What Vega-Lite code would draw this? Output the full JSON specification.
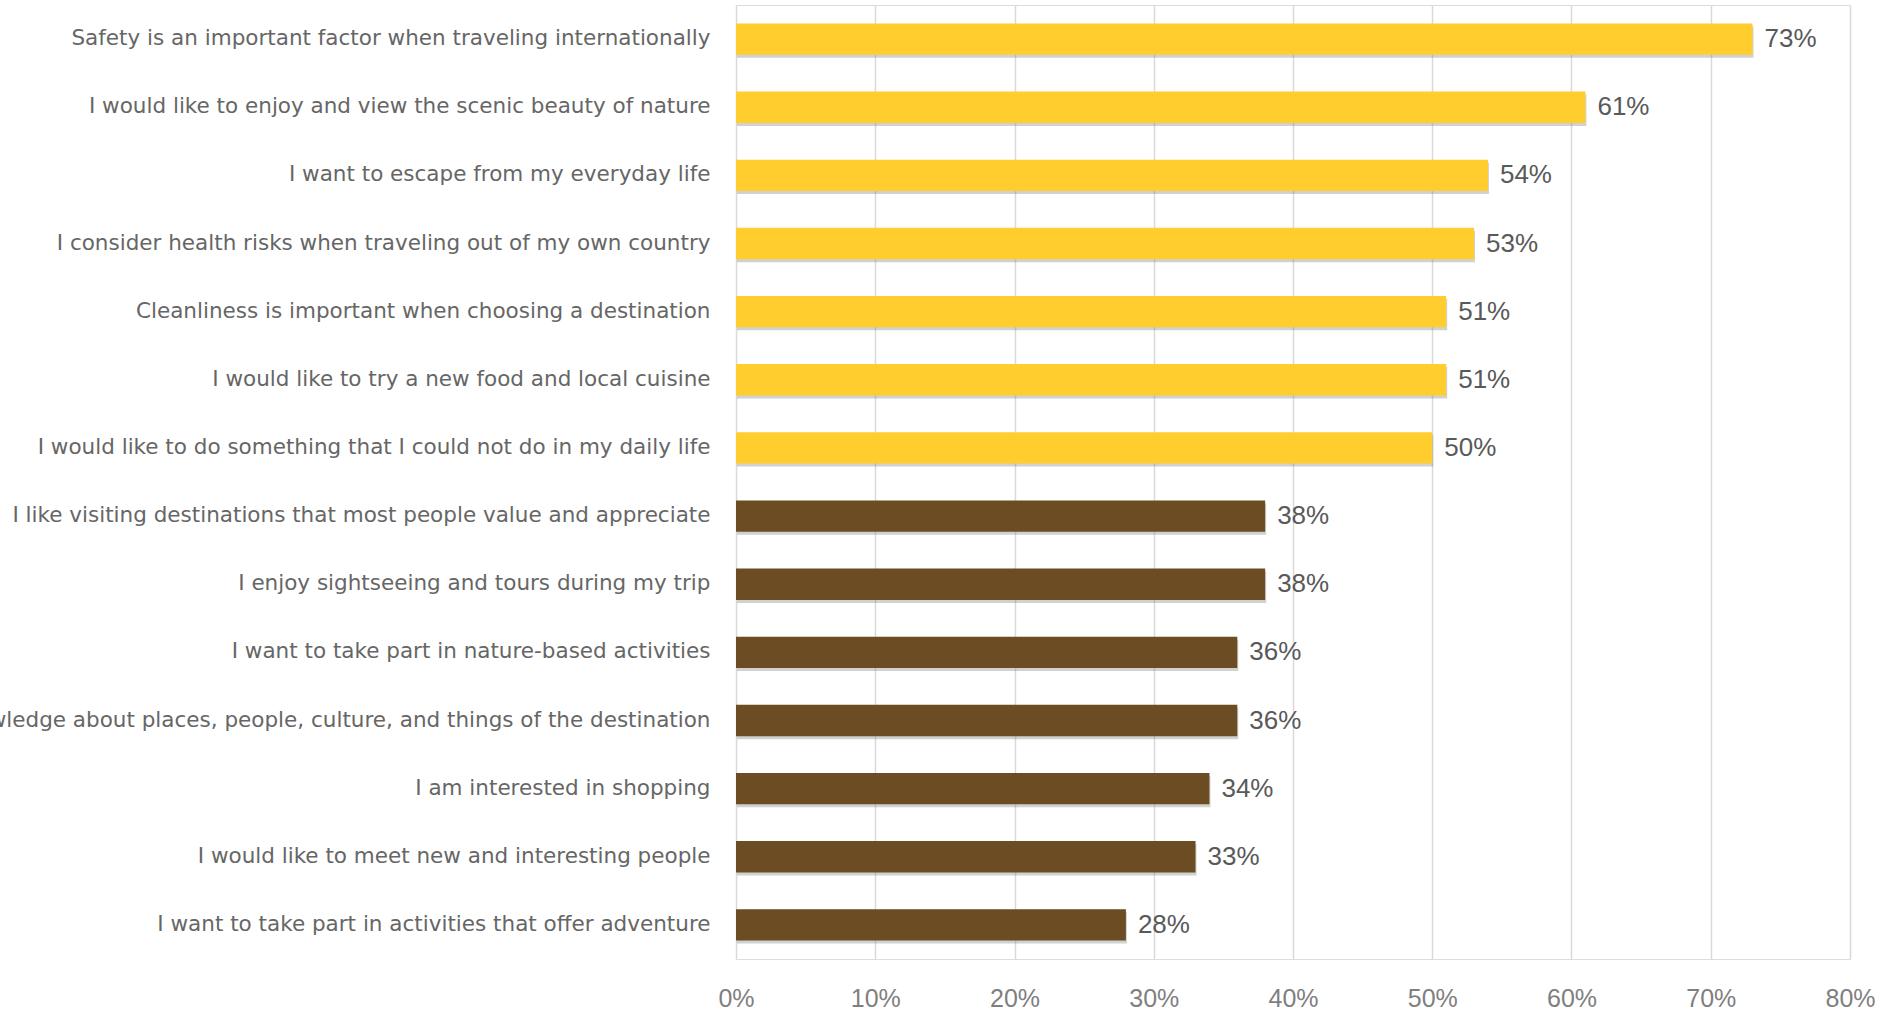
{
  "$schema": "https://vega.github.io/schema/vega-lite/v6.json",
  "autosize": {"type": "none"},
  "padding": {"left": 736, "top": 5, "right": 53, "bottom": 54},
  "width": 1114,
  "height": 954,
  "background": "white",
  "data": {
    "values": [
      {"item": "Safety is an important factor when traveling internationally", "value": 0.73, "group": "top"},
      {"item": "I would like to enjoy and view the scenic beauty of nature", "value": 0.61, "group": "top"},
      {"item": "I want to escape from my everyday life", "value": 0.54, "group": "top"},
      {"item": "I consider health risks when traveling out of my own country", "value": 0.53, "group": "top"},
      {"item": "Cleanliness is important when choosing a destination", "value": 0.51, "group": "top"},
      {"item": "I would like to try a new food and local cuisine", "value": 0.51, "group": "top"},
      {"item": "I would like to do something that I could not do in my daily life", "value": 0.50, "group": "top"},
      {"item": "I like visiting destinations that most people value and appreciate", "value": 0.38, "group": "rest"},
      {"item": "I enjoy sightseeing and tours during my trip", "value": 0.38, "group": "rest"},
      {"item": "I want to take part in nature-based activities", "value": 0.36, "group": "rest"},
      {"item": "I want to gain knowledge about places, people, culture, and things of the destination", "value": 0.36, "group": "rest"},
      {"item": "I am interested in shopping", "value": 0.34, "group": "rest"},
      {"item": "I would like to meet new and interesting people", "value": 0.33, "group": "rest"},
      {"item": "I want to take part in activities that offer adventure", "value": 0.28, "group": "rest"}
    ]
  },
  "encoding": {
    "y": {
      "field": "item",
      "type": "nominal",
      "sort": null,
      "scale": {"paddingInner": 0.54, "paddingOuter": 0.27},
      "axis": {
        "title": null,
        "ticks": false,
        "domain": false,
        "labelFont": "DejaVu Sans",
        "labelFontSize": 21.5,
        "labelColor": "#666666",
        "labelPadding": 26,
        "labelLimit": 2000
      }
    },
    "x": {
      "field": "value",
      "type": "quantitative",
      "scale": {"domain": [0, 0.8]},
      "axis": {
        "title": null,
        "format": ".0%",
        "values": [0, 0.1, 0.2, 0.3, 0.4, 0.5, 0.6, 0.7, 0.8],
        "labelOverlap": false,
        "labelFlush": false,
        "grid": true,
        "gridColor": "#d9d9d9",
        "gridWidth": 1.5,
        "ticks": false,
        "domain": false,
        "labelFont": "Liberation Sans",
        "labelFontSize": 25,
        "labelColor": "#7f7f7f",
        "labelPadding": 27
      }
    }
  },
  "layer": [
    {
      "mark": {"type": "bar", "color": "#7a7a7a", "opacity": 0.35, "yOffset": 3, "xOffset": 1},
      "encoding": {}
    },
    {
      "mark": {"type": "bar"},
      "encoding": {
        "color": {
          "field": "group",
          "type": "nominal",
          "scale": {"domain": ["top", "rest"], "range": ["#FFCD2E", "#6B4C23"]},
          "legend": null
        }
      }
    },
    {
      "mark": {"type": "text", "align": "left", "dx": 12, "font": "Liberation Sans", "fontSize": 26, "color": "#595959"},
      "encoding": {
        "text": {"field": "value", "type": "quantitative", "format": ".0%"}
      }
    }
  ]
}
